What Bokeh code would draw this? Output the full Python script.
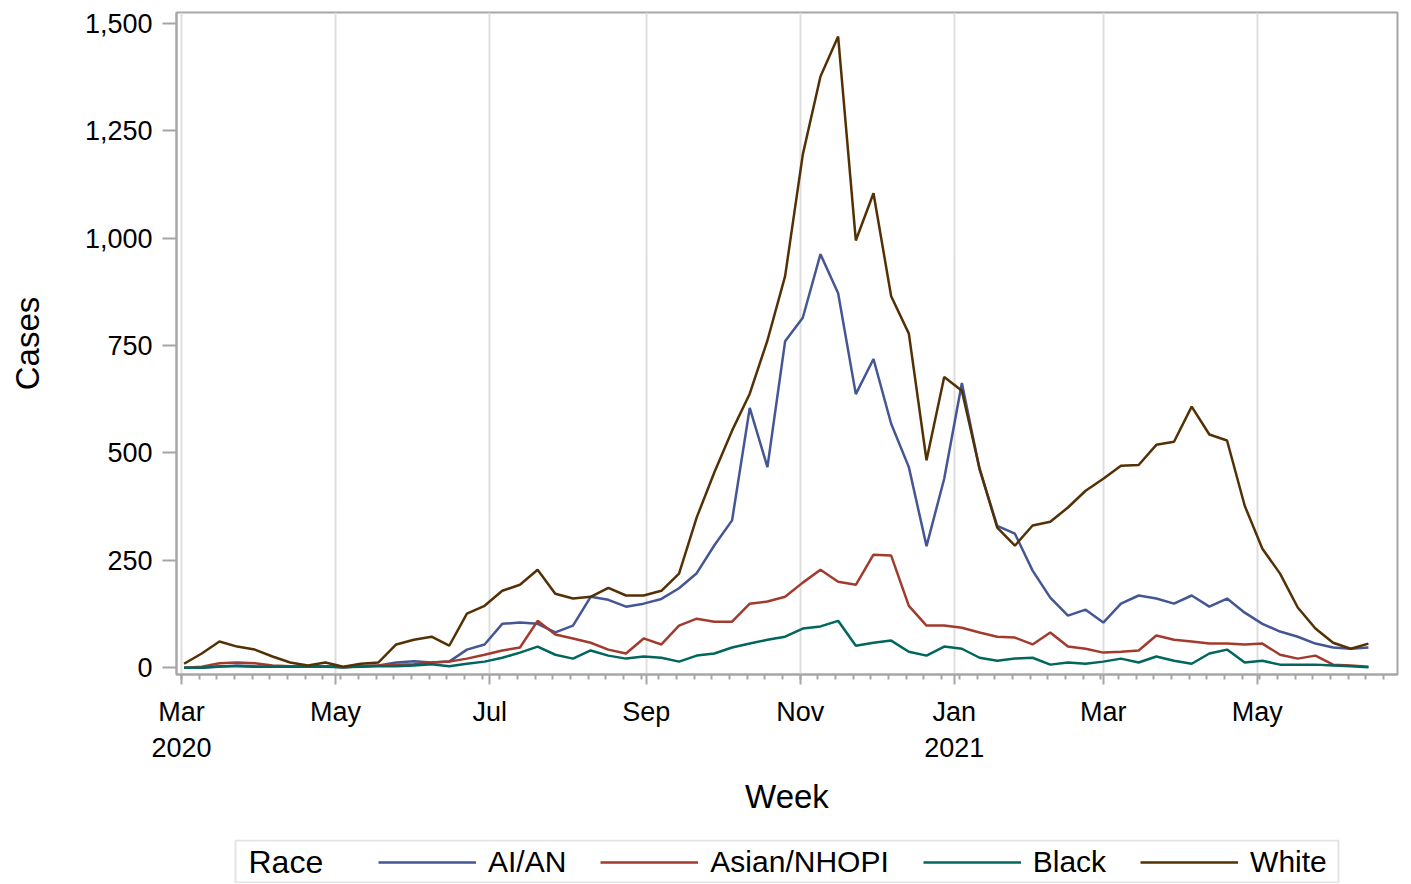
import pandas as pd
from bokeh.plotting import figure
from bokeh.layouts import column
from bokeh.models import (Range1d, FixedTicker, NumeralTickFormatter, Legend, LegendItem,
                          Label, BoxAnnotation)
from bokeh.embed import file_html
from bokeh.resources import INLINE

# ---------------- data ----------------
week_start = "2020-03-02"
n_weeks = 68

ai_an = [0, 0, 2, 5, 3, 2, 2, 3, 3, 1, 3, 5,
         12, 15, 12, 14, 42, 54, 102, 105, 102, 82, 98, 165, 158, 142, 149,
         160, 185, 220, 285, 343, 605, 467, 760, 815, 963, 872, 637, 719, 568, 467,
         283, 440, 663, 462, 330, 312, 226, 163, 121, 135, 105, 149, 168, 161, 149,
         168, 142, 161, 128, 102, 84, 72, 56, 47, 44, 47]
asian_nhopi = [0, 2, 10, 12, 10, 5, 3, 3, 3, 1, 3, 5,
               7, 8, 12, 14, 21, 30, 40, 47, 109, 77, 68, 58, 42, 33, 68,
               54, 98, 114, 107, 107, 149, 154, 165, 198, 228, 200, 193, 263, 261, 144,
               98, 98, 93, 82, 72, 70, 54, 82, 49, 44, 35, 37, 40, 75, 65,
               61, 56, 56, 54, 56, 30, 21, 28, 7, 5, 2]
black = [0, 0, 3, 3, 2, 2, 2, 2, 2, 1, 2, 3,
         3, 5, 8, 3, 9, 14, 23, 35, 49, 30, 21, 40, 28, 21, 26,
         23, 14, 28, 33, 47, 56, 65, 72, 91, 96, 109, 51, 58, 63, 37,
         28, 49, 44, 23, 16, 21, 23, 7, 12, 9, 14, 21, 12, 26, 16,
         9, 33, 42, 12, 16, 7, 7, 7, 5, 3, 1]
white = [9, 33, 61, 49, 42, 26, 12, 5, 12, 2, 9, 12,
         54, 65, 72, 51, 126, 144, 179, 193, 228, 172, 161, 165, 186, 168, 168,
         179, 219, 350, 455, 552, 638, 762, 912, 1195, 1377, 1470, 995, 1105, 865, 778,
         483, 677, 645, 464, 326, 284, 331, 340, 373, 412, 440, 470, 472, 519, 526,
         608, 543, 529, 377, 277, 219, 140, 91, 58, 44, 56]

series_names = ["AI/AN", "Asian/NHOPI", "Black", "White"]
series_colors = ["#445694", "#A23A2E", "#01665E", "#543005"]
legend_title = "Race"

major_dates = ["2020-03-01", "2020-05-01", "2020-07-01", "2020-09-01",
               "2020-11-01", "2021-01-01", "2021-03-01", "2021-05-01"]
major_labels = ["Mar\n2020", "May", "Jul", "Sep", "Nov", "Jan\n2021", "Mar", "May"]
y_ticks = [0, 250, 500, 750, 1000, 1250, 1500]

# ---------------- helpers ----------------
def ms(s):
    return int(pd.Timestamp(s).value // 1_000_000)

weeks = pd.date_range(week_start, periods=n_weeks, freq="7D")
major_ms = [ms(d) for d in major_dates]
minor_ms = [ms(d) for d in pd.date_range("2020-03-01", "2021-06-27", freq="7D")]
all_series = [ai_an, asian_nhopi, black, white]

FONT = "Liberation Sans"
GRAY = "#a6a6a6"
W = 1405
LEFT, RIGHT = 176, 8

p = figure(width=W, height=839, x_axis_type="datetime",
           output_backend="svg", toolbar_location=None,
           x_range=Range1d(ms("2020-02-28"), ms("2021-06-25 12:00")),
           y_range=Range1d(-16, 1526),
           min_border_left=LEFT, min_border_right=RIGHT,
           min_border_top=12, min_border_bottom=165)

p.background_fill_color = "white"
p.border_fill_color = "white"
p.outline_line_color = GRAY
p.outline_line_width = 2

# x axis
xa = p.xaxis[0]
xa.ticker = FixedTicker(ticks=major_ms, minor_ticks=minor_ms)
xa.major_label_overrides = {k: v for k, v in zip(major_ms, major_labels)}
xa.axis_label = "Week"
xa.axis_label_text_font = FONT
xa.axis_label_text_font_size = "33px"
xa.axis_label_text_font_style = "normal"
xa.axis_label_text_color = "black"
xa.axis_label_standoff = 12
xa.major_label_text_font = FONT
xa.major_label_text_font_size = "27px"
xa.major_label_text_color = "black"
xa.major_label_standoff = 12
xa.axis_line_color = GRAY
xa.axis_line_width = 2
xa.major_tick_line_color = GRAY
xa.major_tick_line_width = 2
xa.major_tick_out = 10
xa.major_tick_in = 0
xa.minor_tick_line_color = GRAY
xa.minor_tick_line_width = 2
xa.minor_tick_out = 5
xa.minor_tick_in = 0

# y axis
ya = p.yaxis[0]
ya.ticker = FixedTicker(ticks=y_ticks, minor_ticks=[])
ya.formatter = NumeralTickFormatter(format="0,0")
ya.axis_label = "Cases"
ya.axis_label_text_font = FONT
ya.axis_label_text_font_size = "33px"
ya.axis_label_text_font_style = "normal"
ya.axis_label_text_color = "black"
ya.axis_label_standoff = 36
ya.major_label_text_font = FONT
ya.major_label_text_font_size = "27px"
ya.major_label_text_color = "black"
ya.major_label_standoff = 10
ya.axis_line_color = GRAY
ya.axis_line_width = 2
ya.major_tick_line_color = GRAY
ya.major_tick_line_width = 2
ya.major_tick_out = 14
ya.major_tick_in = 0
ya.minor_tick_out = 0
ya.minor_tick_in = 0

p.xgrid.grid_line_color = "#dedede"
p.xgrid.grid_line_width = 2
p.ygrid.grid_line_color = None

for vals, col in zip(all_series, series_colors):
    p.line(x=weeks, y=vals, line_color=col, line_width=2.5)

# ---------------- legend strip below (same frame left/right as main plot) ----------------
lf = figure(width=W, height=44, output_backend="svg", toolbar_location=None,
            x_axis_type="datetime",
            x_range=Range1d(ms("2020-02-28"), ms("2021-06-25 12:00")), y_range=Range1d(-16, 1526),
            x_axis_location=None, y_axis_location=None,
            min_border_left=LEFT, min_border_right=RIGHT,
            min_border_top=0, min_border_bottom=0)
lf.grid.visible = False
lf.outline_line_color = None
lf.background_fill_color = "white"
lf.border_fill_color = "white"

leg_renderers = [lf.line(x=weeks, y=vals, line_color=c, line_width=2.5, visible=False)
                 for vals, c in zip(all_series, series_colors)]
legend = Legend(items=[LegendItem(label=n, renderers=[r]) for n, r in zip(series_names, leg_renderers)],
                orientation="horizontal", location=(202, 4),
                glyph_width=98, glyph_height=20, label_standoff=12, spacing=34,
                padding=0, margin=0, inactive_fill_alpha=0,
                label_text_font=FONT, label_text_font_size="30px", label_text_color="black",
                border_line_alpha=0, background_fill_alpha=0, click_policy="none")
lf.add_layout(legend)

box = BoxAnnotation(left=59, right=1162, bottom=1, top=43,
                    left_units="screen", right_units="screen",
                    bottom_units="screen", top_units="screen",
                    fill_alpha=0, line_color=GRAY, line_width=2)
lf.add_layout(box)

race = Label(x=72, y=22, x_units="screen", y_units="screen", text=legend_title,
             text_font=FONT, text_font_size="32px", text_color="black",
             text_baseline="middle", text_align="left")
lf.add_layout(race)

layout = column(p, lf, spacing=0)
open("out.html", "w").write(file_html(layout, INLINE))
